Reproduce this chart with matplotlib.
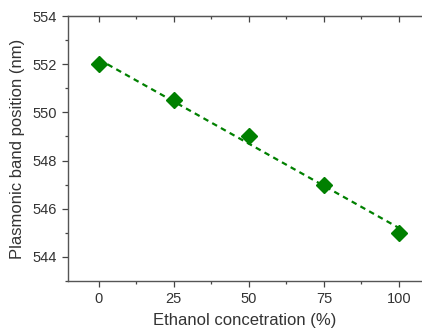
import numpy as np
import matplotlib.pyplot as plt
from matplotlib.ticker import MultipleLocator

# Data
ethanol = [0, 25, 50, 75, 100]
band_pos = [552.0, 550.5, 549.0, 547.0, 545.0]

plt.rcParams['font.family'] = ['Liberation Sans', 'DejaVu Sans']

fig = plt.figure(figsize=(4.22, 3.36), dpi=100)
ax = fig.add_axes([0.161, 0.164, 0.839, 0.788])

# linear fit
slope, intercept = np.polyfit(ethanol, band_pos, 1)
xf = np.array([ethanol[0], ethanol[-1]])
ax.plot(xf, slope * xf + intercept, ls=(0, (2.5, 2)), color='#008000', lw=1.6)
ax.plot(ethanol, band_pos, ls='none', marker='D', ms=8, color='#008000')

# axis runs off the right edge of the picture, like the original crop
ax.set_xlim(-10.3, 107.7)
ax.set_ylim(543, 554)
ax.xaxis.set_major_locator(MultipleLocator(25))
ax.xaxis.set_minor_locator(MultipleLocator(12.5))
ax.yaxis.set_major_locator(MultipleLocator(2))
ax.yaxis.set_minor_locator(MultipleLocator(1))

ax.tick_params(which='both', direction='out', labelsize=10.5, colors='#444444', labelcolor='#333333')
ax.tick_params(which='major', length=4.5, width=0.9)
ax.tick_params(which='minor', length=2.5, width=0.9)
ax.spines['right'].set_visible(False)
for name in ['left', 'bottom', 'top']:
    ax.spines[name].set_color('#555555')
    ax.spines[name].set_linewidth(1.0)

# top ticks point into the plot
top = ax.secondary_xaxis('top')
top.xaxis.set_major_locator(MultipleLocator(25))
top.xaxis.set_minor_locator(MultipleLocator(12.5))
top.tick_params(which='both', direction='in', labeltop=False, colors='#444444')
top.tick_params(which='major', length=4.5, width=0.9)
top.tick_params(which='minor', length=2.5, width=0.9)
top.spines['top'].set_color('#555555')

ax.set_xlabel('Ethanol concetration (%)', fontsize=12, color='#333333', labelpad=5)
ax.set_ylabel('Plasmonic band position (nm)', fontsize=12, color='#333333', labelpad=5)

fig.savefig('out.png', dpi=100)
